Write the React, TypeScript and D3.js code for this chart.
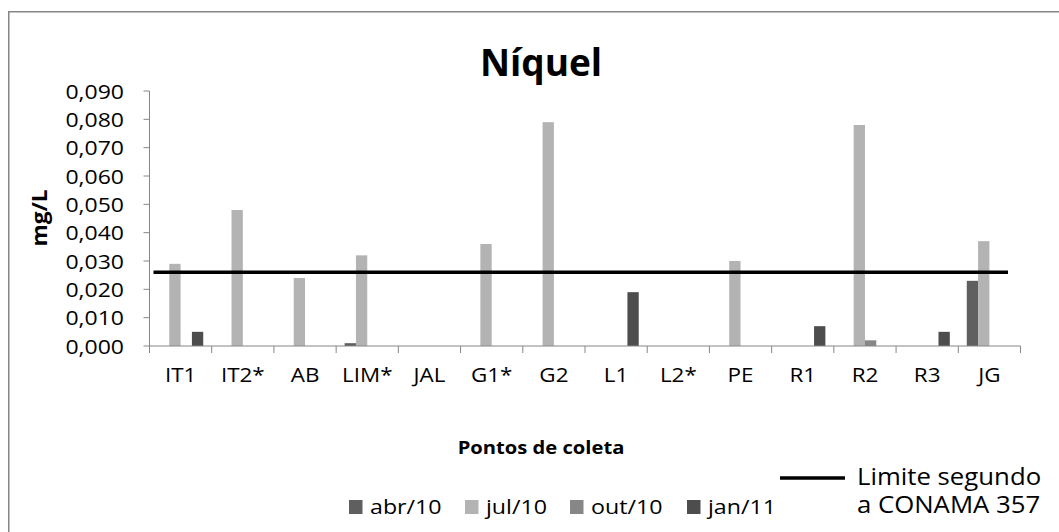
import React from "react";
import * as d3 from "d3";

const categories = ["IT1", "IT2*", "AB", "LIM*", "JAL", "G1*", "G2", "L1", "L2*", "PE", "R1", "R2", "R3", "JG"];
const seriesNames = ["abr/10", "jul/10", "out/10", "jan/11"];
const abr10 = [null, null, null, 0.001, null, null, null, null, null, null, null, null, null, 0.023];
const jul10 = [0.029, 0.048, 0.024, 0.032, null, 0.036, 0.079, null, null, 0.03, null, 0.078, null, 0.037];
const out10 = [null, null, null, null, null, null, null, null, null, null, null, 0.002, null, null];
const jan11 = [0.005, null, null, null, null, null, null, 0.019, null, null, 0.007, null, 0.005, null];
const yTicks = [0, 0.01, 0.02, 0.03, 0.04, 0.05, 0.06, 0.07, 0.08, 0.09];
const limitValue = 0.026;
const limitLabel = ["Limite segundo", "a CONAMA 357"];

const seriesColors = ["#5f5f5f", "#b3b3b3", "#878787", "#4d4d4d"];
const FONT = "'Open Sans', 'DejaVu Sans', sans-serif";
const AXIS = "#868686";

type LabelProps = {
  x: number;
  y: number;
  size: number;
  sx?: number;
  anchor?: "start" | "middle" | "end";
  weight?: number;
  rotate?: number;
  children: React.ReactNode;
};

function Label({ x, y, size, sx = 1, anchor = "start", weight = 400, rotate = 0, children }: LabelProps) {
  return (
    <text
      transform={`translate(${x},${y}) rotate(${rotate}) scale(${sx},1)`}
      fontFamily={FONT}
      fontSize={size}
      fontWeight={weight}
      textAnchor={anchor}
      fill="#000"
    >
      {children}
    </text>
  );
}

export default function App() {
  const W = 1059;
  const H = 532;
  const x = d3.scaleBand<string>().domain(categories).range([149.5, 1020.5]).padding(0);
  const y = d3.scaleLinear().domain([0, 0.09]).range([346, 91]);
  const bw = x.bandwidth();
  const barW = bw / 5.5;
  const series = [abr10, jul10, out10, jan11];
  const fmt = (v: number) => d3.format(".3f")(v).replace(".", ",");
  const [x0, x1] = x.range();

  return (
    <svg
      width={W}
      height={H}
      style={{ position: "fixed", left: 0, top: 0, background: "#fff" }}
    >
      <rect x={8.75} y={11.75} width={1200} height={600} fill="#fff" stroke={AXIS} strokeWidth={1.5} />

      <Label x={541} y={76} size={37} weight={700} anchor="middle" sx={1.0}>Níquel</Label>

      {/* bars */}
      {series.map((vals, si) =>
        vals.map((v, ci) =>
          v == null ? null : (
            <rect
              key={`${si}-${ci}`}
              x={(x(categories[ci]) as number) + barW * 0.75 + si * barW}
              y={y(v)}
              width={barW}
              height={y(0) - y(v)}
              fill={seriesColors[si]}
            />
          )
        )
      )}

      {/* y axis */}
      <line x1={x0} x2={x0} y1={y(0.09)} y2={y(0)} stroke={AXIS} strokeWidth={1} />
      {yTicks.map((t) => (
        <g key={t}>
          <line x1={x0 - 6} x2={x0} y1={y(t)} y2={y(t)} stroke={AXIS} strokeWidth={1} />
          <Label x={124} y={y(t) + 7.5} size={19.5} anchor="end" sx={1.18}>{fmt(t)}</Label>
        </g>
      ))}
      <Label x={47} y={218} size={21} weight={700} anchor="middle" rotate={-90} sx={1.08}>mg/L</Label>

      {/* x axis */}
      <line x1={x0} x2={x1} y1={y(0)} y2={y(0)} stroke={AXIS} strokeWidth={1} />
      {categories.concat([""]).map((c, i) => {
        const px = x0 + i * bw;
        return <line key={`t${i}`} x1={px} x2={px} y1={y(0)} y2={y(0) + 7} stroke={AXIS} strokeWidth={1} />;
      })}
      {categories.map((c) => (
        <Label key={c} x={(x(c) as number) + bw / 2} y={382} size={19.5} anchor="middle" sx={1.15}>{c}</Label>
      ))}
      <Label x={541} y={454} size={18} weight={700} anchor="middle" sx={1.12}>Pontos de coleta</Label>

      {/* limit line */}
      <line x1={x0 + 4} x2={x1 - 12.5} y1={y(limitValue)} y2={y(limitValue)} stroke="#000" strokeWidth={3.5} />

      {/* legend */}
      {seriesNames.map((n, i) => {
        const lx = [349, 465, 570, 687][i];
        return (
          <g key={n}>
            <rect x={lx} y={500} width={13.5} height={14} fill={seriesColors[i]} />
            <Label x={lx + 21} y={514} size={20} sx={1.16}>{n}</Label>
          </g>
        );
      })}
      <line x1={780} x2={845} y1={478} y2={478} stroke="#000" strokeWidth={3.5} />
      <Label x={857} y={485} size={23} sx={1.12}>{limitLabel[0]}</Label>
      <Label x={857} y={513} size={23} sx={1.12}>{limitLabel[1]}</Label>
    </svg>
  );
}
